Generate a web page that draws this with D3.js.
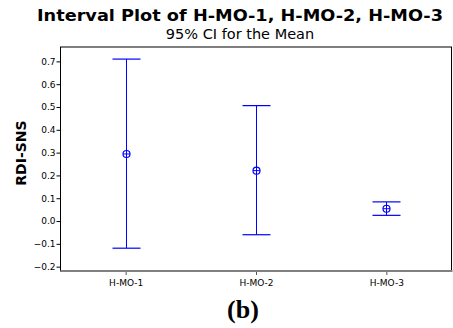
<!DOCTYPE html>
<html><head><meta charset="utf-8">
<script src="https://cdn.jsdelivr.net/npm/d3@7"></script>
<style>body{margin:0;background:#fff}svg{display:block}</style>
</head><body>
<svg id="c" width="453" height="328"></svg>
<script>
const categories = ["H-MO-1", "H-MO-2", "H-MO-3"];
const means = [0.294, 0.221, 0.054];
const lowers = [-0.119, -0.060, 0.025];
const uppers = [0.710, 0.506, 0.084];
const yTicks = [-0.2, -0.1, 0.0, 0.1, 0.2, 0.3, 0.4, 0.5, 0.6, 0.7];

const svg = d3.select("#c");
const L = 60.5, R = 451.5, T = 47, B = 271;
const x = d3.scalePoint().domain(categories).range([L, R]).padding(0.5);
const y = d3.scaleLinear().domain([-0.219, 0.763]).range([B, T]);
const font = "DejaVu Sans, Verdana, sans-serif";

svg.append("text").attr("x", 240).attr("y", 21).attr("text-anchor", "middle")
  .attr("font-family", font).attr("font-weight", "bold").attr("font-size", 16)
  .attr("textLength", 406).attr("lengthAdjust", "spacingAndGlyphs")
  .text("Interval Plot of H-MO-1, H-MO-2, H-MO-3");
svg.append("text").attr("x", 240).attr("y", 39).attr("text-anchor", "middle")
  .attr("font-family", font).attr("font-size", 14.5)
  .text("95% CI for the Mean");

// frame
svg.append("rect").attr("x", L).attr("y", T).attr("width", R - L).attr("height", B - T)
  .attr("fill", "none").attr("stroke", "#000").attr("stroke-width", 1);
svg.append("line").attr("x1", L).attr("x2", R + 1).attr("y1", B).attr("y2", B)
  .attr("stroke", "#808080").attr("stroke-width", 2);

// y axis
const ya = svg.append("g").attr("transform", `translate(${L},0)`)
  .call(d3.axisLeft(y).tickValues(yTicks).tickFormat(d3.format(".1f")).tickSize(4).tickPadding(1));
ya.select(".domain").remove();
ya.selectAll("text").attr("font-family", font).attr("font-size", 9).attr("fill", "#000");

// x axis
const xa = svg.append("g").attr("transform", `translate(0,${B + 1})`)
  .call(d3.axisBottom(x).tickSize(3).tickPadding(5));
xa.select(".domain").remove();
xa.selectAll("line").attr("stroke", "#555");
xa.selectAll("text").attr("font-family", font).attr("font-size", 9).attr("fill", "#000");

svg.append("text").attr("transform", `translate(26,153) rotate(-90)`).attr("text-anchor", "middle")
  .attr("font-family", font).attr("font-weight", "bold").attr("font-size", 14).text("RDI-SNS");

// intervals
const data = categories.map((c, i) => ({c, m: means[i], lo: lowers[i], hi: uppers[i]}));
const g = svg.append("g").attr("stroke", "#0000ff").attr("fill", "none");
const cw = 14;
data.forEach(d => {
  const cx = Math.round(x(d.c)) + 0.5;
  g.append("line").attr("x1", cx).attr("x2", cx).attr("y1", y(d.hi)).attr("y2", y(d.lo)).attr("stroke-width", 1);
  g.append("line").attr("x1", cx - cw).attr("x2", cx + cw).attr("y1", y(d.hi)).attr("y2", y(d.hi)).attr("stroke-width", 1.2);
  g.append("line").attr("x1", cx - cw).attr("x2", cx + cw).attr("y1", y(d.lo)).attr("y2", y(d.lo)).attr("stroke-width", 1.2);
  const my = y(d.m);
  g.append("circle").attr("cx", cx).attr("cy", my).attr("r", 3.5).attr("stroke-width", 1.2);
  g.append("line").attr("x1", cx - 3.5).attr("x2", cx + 3.5).attr("y1", my).attr("y2", my).attr("stroke-width", 1);
});

svg.append("text").attr("x", 243).attr("y", 318).attr("text-anchor", "middle")
  .attr("font-family", "Liberation Serif, Times New Roman, serif").attr("font-weight", "bold")
  .attr("font-size", 26).text("(b)");
</script>
</body></html>
